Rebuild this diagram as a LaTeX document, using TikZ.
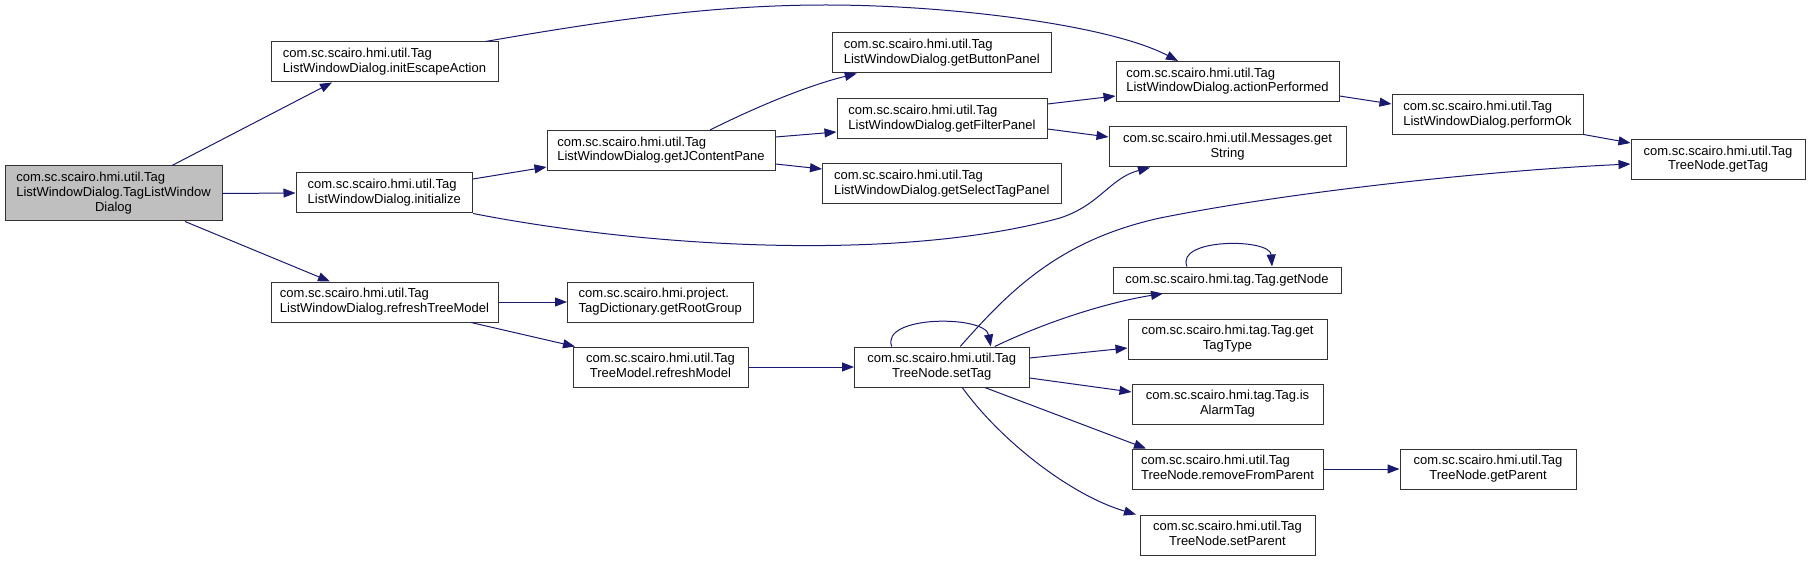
\documentclass[tikz,border=0pt]{standalone}
\usepackage{fontspec}
\setmainfont{Liberation Sans}
\usetikzlibrary{arrows.meta}
\definecolor{edgeblue}{HTML}{191970}
\definecolor{maingray}{HTML}{BFBFBF}
\newcommand\lblii[2]{\begin{tabular}{@{}l@{}}#1\\\multicolumn{1}{@{}c@{}}{#2}\end{tabular}}
\newcommand\lbliii[3]{\begin{tabular}{@{}l@{}}#1\\#2\\\multicolumn{1}{@{}c@{}}{#3}\end{tabular}}
\tikzset{
  fnbox/.style={draw=black!80, line width=1pt, fill=white, inner sep=0pt, rectangle},
  edge/.style={draw=edgeblue, line width=1pt, -{Triangle[length=12pt,width=9pt]}},
}
\begin{document}
\begin{tikzpicture}[x=1pt,y=-1pt,font=\fontsize{13}{14.7}\selectfont]
\fill[white] (0,0) rectangle (1811,561);
\useasboundingbox (0,0) rectangle (1811,561);

% nodes
\node[fnbox, fill=maingray, minimum width=217pt, minimum height=55pt] (main) at (113.5,193.5)
  {\lbliii{com.sc.scairo.hmi.util.Tag}{ListWindowDialog.TagListWindow}{Dialog}};
\node[fnbox, minimum width=227pt, minimum height=40pt] (esc) at (384.5,62)
  {\lblii{com.sc.scairo.hmi.util.Tag}{ListWindowDialog.initEscapeAction}};
\node[fnbox, minimum width=176.5pt, minimum height=40pt] (init) at (384.25,193)
  {\lblii{com.sc.scairo.hmi.util.Tag}{ListWindowDialog.initialize}};
\node[fnbox, minimum width=227pt, minimum height=40pt] (rtm) at (384.5,302)
  {\lblii{com.sc.scairo.hmi.util.Tag}{ListWindowDialog.refreshTreeModel}};
\node[fnbox, minimum width=228pt, minimum height=40pt] (gjcp) at (661,150.5)
  {\lblii{com.sc.scairo.hmi.util.Tag}{ListWindowDialog.getJContentPane}};
\node[fnbox, minimum width=218.5pt, minimum height=40pt] (gbp) at (941.75,53)
  {\lblii{com.sc.scairo.hmi.util.Tag}{ListWindowDialog.getButtonPanel}};
\node[fnbox, minimum width=210pt, minimum height=40pt] (gfp) at (942,119)
  {\lblii{com.sc.scairo.hmi.util.Tag}{ListWindowDialog.getFilterPanel}};
\node[fnbox, minimum width=238.5pt, minimum height=40pt] (gstp) at (941.75,184)
  {\lblii{com.sc.scairo.hmi.util.Tag}{ListWindowDialog.getSelectTagPanel}};
\node[fnbox, minimum width=185.5pt, minimum height=40pt] (grg) at (660.25,302)
  {\lblii{com.sc.scairo.hmi.project.}{TagDictionary.getRootGroup}};
\node[fnbox, minimum width=175pt, minimum height=40pt] (rm) at (660.5,367)
  {\lblii{com.sc.scairo.hmi.util.Tag}{TreeModel.refreshModel}};
\node[fnbox, minimum width=174.5pt, minimum height=40pt] (st) at (941.75,367)
  {\lblii{com.sc.scairo.hmi.util.Tag}{TreeNode.setTag}};
\node[fnbox, minimum width=223pt, minimum height=40pt] (ap) at (1227.5,81.5)
  {\lblii{com.sc.scairo.hmi.util.Tag}{ListWindowDialog.actionPerformed}};
\node[fnbox, minimum width=237pt, minimum height=40pt] (msg) at (1227.5,147)
  {\lblii{com.sc.scairo.hmi.util.Messages.get}{String}};
\node[fnbox, minimum width=191pt, minimum height=40pt] (pok) at (1487.5,115)
  {\lblii{com.sc.scairo.hmi.util.Tag}{ListWindowDialog.performOk}};
\node[fnbox, minimum width=174pt, minimum height=40pt] (gt) at (1718,159.5)
  {\lblii{com.sc.scairo.hmi.util.Tag}{TreeNode.getTag}};
\node[fnbox, minimum width=228pt, minimum height=26pt] (gn) at (1227,280)
  {com.sc.scairo.hmi.tag.Tag.getNode};
\node[fnbox, minimum width=199pt, minimum height=40pt] (gtt) at (1227.5,339)
  {\lblii{com.sc.scairo.hmi.tag.Tag.get}{TagType}};
\node[fnbox, minimum width=191pt, minimum height=40pt] (iat) at (1227.5,404)
  {\lblii{com.sc.scairo.hmi.tag.Tag.is}{AlarmTag}};
\node[fnbox, minimum width=191pt, minimum height=40pt] (rfp) at (1227.5,469)
  {\lblii{com.sc.scairo.hmi.util.Tag}{TreeNode.removeFromParent}};
\node[fnbox, minimum width=176pt, minimum height=40pt] (gp) at (1488,469)
  {\lblii{com.sc.scairo.hmi.util.Tag}{TreeNode.getParent}};
\node[fnbox, minimum width=175pt, minimum height=40pt] (sp) at (1227.5,535)
  {\lblii{com.sc.scairo.hmi.util.Tag}{TreeNode.setParent}};

% edges
\draw[edge] ([xshift=58.5pt]main.north) -- ([xshift=-52.5pt]esc.south);
\draw[edge] (main.east) -- (init.west);
\draw[edge] ([xshift=71.5pt]main.south) -- ([xshift=-54.5pt]rtm.north);
\draw[edge] ([xshift=-13pt]esc.north east) .. controls (620,18) and (720,5) .. (826,5)
  .. controls (950,5) and (1110,25) .. ([xshift=-49.5pt]ap.north);
\draw[edge] ([yshift=14pt]init.east) -- ([yshift=-16.5pt]gjcp.west);
\draw[edge] (init.south east) .. controls (650,248) and (900,262) .. (1060,218)
  .. controls (1100,205) and (1110,178) .. ([xshift=-77.5pt]msg.south);
\draw[edge] ([xshift=49pt]gjcp.north) .. controls (760,105) and (810,85) .. ([xshift=-85pt]gbp.south);
\draw[edge] ([yshift=13.5pt]gjcp.east) -- ([yshift=-13pt]gfp.west);
\draw[edge] ([yshift=-13.5pt]gjcp.east) -- ([yshift=15pt]gstp.west);
\draw[edge] ([yshift=15pt]gfp.east) -- ([yshift=-14.5pt]ap.west);
\draw[edge] ([yshift=-10pt]gfp.east) -- ([yshift=10pt]msg.west);
\draw[edge] ([yshift=-14.5pt]ap.east) -- ([yshift=11pt]pok.west);
\draw[edge] ([yshift=1pt]pok.south east) -- ([yshift=16.5pt]gt.west);
\draw[edge] ([xshift=18.5pt]st.north) .. controls (1010,290) and (1060,240) .. (1160,218)
  .. controls (1300,190) and (1500,170) .. ([yshift=-4.5pt]gt.west);
\draw[edge] ([xshift=-50pt]st.north) .. controls (880,315) and (985,315) .. ([xshift=49pt]st.north);
\draw[edge] ([xshift=53pt]st.north) .. controls (1050,320) and (1110,302) .. ([xshift=-64pt]gn.south);
\draw[edge] ([yshift=9pt]st.east) -- ([yshift=-9pt]gtt.west);
\draw[edge] ([yshift=-11pt]st.east) -- ([yshift=12pt]iat.west);
\draw[edge] ([xshift=43pt]st.south) -- ([xshift=-81.5pt]rfp.north);
\draw[edge] ([xshift=20.5pt]st.south) .. controls (1000,440) and (1070,495) .. ([xshift=-91.5pt]sp.north);
\draw[edge] (rtm.east) -- (grg.west);
\draw[edge] ([xshift=86.5pt]rtm.south) -- ([xshift=-85.5pt]rm.north);
\draw[edge] (rm.east) -- (st.west);
\draw[edge] ([xshift=-40pt]gn.north) .. controls (1175,238) and (1270,238) .. ([xshift=45pt]gn.north);
\draw[edge] (rfp.east) -- (gp.west);
\end{tikzpicture}
\end{document}
